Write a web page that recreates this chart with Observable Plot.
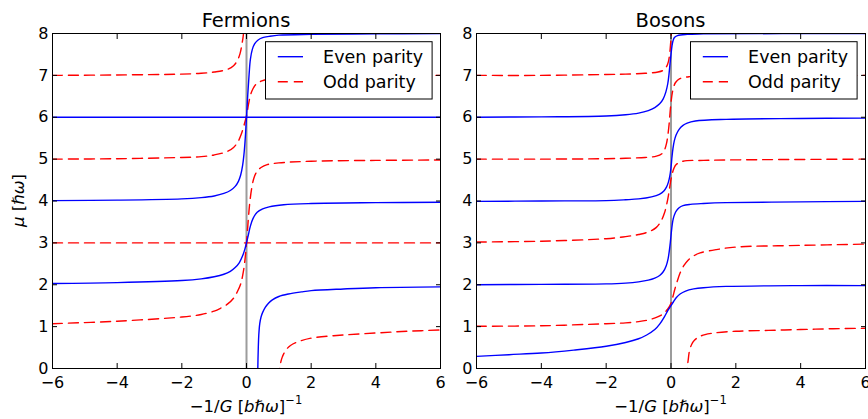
<!DOCTYPE html>
<html><head><meta charset="utf-8">
<script src="https://cdn.jsdelivr.net/npm/d3@7"></script>
<script src="https://cdn.jsdelivr.net/npm/@observablehq/plot@0.6"></script>
<style>
body{margin:0;background:#fff;}
#wrap{position:relative;width:868px;height:419px;font-family:"DejaVu Sans",sans-serif;}
#wrap svg{position:absolute;top:0;}
</style></head><body><div id="wrap"></div>
<script>
// ---------- data ----------
const xTicks = [-6, -4, -2, 0, 2, 4, 6];
const yTicks = [0, 1, 2, 3, 4, 5, 6, 7, 8];
const panelTitles = ["Fermions", "Bosons"];
const legendLabels = ["Even parity", "Odd parity"];

// Fermions, even parity (blue solid)
const fermEvenFlat6 = [[-6, 6], [6, 6]];
const fermEven4to8 = [[-6,4.01],[-4,4.02],[-2,4.05],[-1.4,4.08],[-1,4.12],[-0.7,4.18],[-0.5,4.25],[-0.35,4.35],[-0.25,4.47],[-0.18,4.62],[-0.12,4.85],[-0.08,5.1],[-0.04,5.48],[0,6],[0.04,6.55],[0.08,7.02],[0.12,7.38],[0.18,7.62],[0.25,7.75],[0.35,7.84],[0.5,7.9],[0.7,7.93],[1,7.96],[2,7.98],[4,7.99],[6,8]];
const fermEven2to4 = [[-6,2.03],[-4,2.05],[-2,2.1],[-1.4,2.14],[-1,2.19],[-0.7,2.25],[-0.5,2.32],[-0.35,2.41],[-0.22,2.53],[-0.12,2.69],[-0.05,2.85],[0,3],[0.06,3.2],[0.12,3.4],[0.2,3.58],[0.33,3.73],[0.5,3.81],[0.7,3.86],[1.15,3.91],[2,3.94],[4,3.96],[6,3.97]];
const fermEvenTo2 = [[0.345,-1],[0.35,0],[0.365,0.5],[0.38,0.8],[0.41,1.07],[0.45,1.23],[0.5,1.34],[0.58,1.46],[0.68,1.56],[0.8,1.64],[1,1.72],[1.3,1.78],[1.7,1.83],[2,1.86],[3,1.9],[4,1.93],[6,1.95]];
// Fermions, odd parity (red dashed)
const fermOddFlat3 = [[-6, 3], [6, 3]];
const fermOdd7to8 = [[-6,7.0],[-4,7.01],[-2,7.03],[-1.4,7.05],[-1,7.08],[-0.6,7.14],[-0.4,7.23],[-0.28,7.36],[-0.2,7.52],[-0.14,7.75],[-0.1,7.95],[-0.08,8.2]];
const fermOdd5to7 = [[-6,5.0],[-4,5.01],[-2,5.04],[-1.4,5.06],[-1,5.1],[-0.6,5.18],[-0.4,5.28],[-0.26,5.42],[-0.16,5.6],[-0.08,5.8],[0,6.03],[0.06,6.3],[0.12,6.52],[0.2,6.68],[0.3,6.79],[0.45,6.86],[0.7,6.92],[1,6.95],[2,6.98],[4,6.99],[6,7.0]];
const fermOdd1to5 = [[-6,1.07],[-4,1.13],[-2,1.23],[-1.4,1.29],[-1,1.37],[-0.8,1.44],[-0.6,1.53],[-0.4,1.68],[-0.28,1.84],[-0.18,2.02],[-0.1,2.3],[-0.04,2.65],[0,3.0],[0.05,3.5],[0.1,3.95],[0.16,4.3],[0.23,4.55],[0.32,4.7],[0.45,4.8],[0.64,4.87],[1,4.91],[2,4.95],[4,4.97],[6,4.98]];
const fermOddTo1 = [[1.02,-1],[1.03,0],[1.06,0.15],[1.1,0.26],[1.15,0.35],[1.25,0.47],[1.36,0.55],[1.6,0.64],[2.03,0.73],[3,0.8],[4.04,0.85],[5,0.89],[6,0.92]];

// Bosons, even parity (blue solid)
const bosEven6to8 = [[-6,6.0],[-4,6.01],[-2,6.03],[-1.4,6.06],[-1,6.1],[-0.7,6.16],[-0.5,6.23],[-0.35,6.32],[-0.24,6.44],[-0.16,6.6],[-0.1,6.8],[-0.06,7.04],[-0.03,7.28],[0,7.5],[0.03,7.7],[0.06,7.82],[0.1,7.9],[0.2,7.95],[0.5,7.98],[1,7.99],[6,8.0]];
const bosEven4to6 = [[-6,3.99],[-4,4.0],[-2,4.01],[-1.4,4.03],[-1,4.05],[-0.6,4.1],[-0.36,4.16],[-0.22,4.24],[-0.14,4.33],[-0.08,4.45],[-0.04,4.58],[0,4.8],[0.03,5.05],[0.06,5.25],[0.1,5.43],[0.16,5.58],[0.25,5.71],[0.36,5.8],[0.5,5.86],[0.75,5.91],[1.7,5.95],[4,5.97],[6,5.98]];
const bosEven2to4 = [[-6,2.0],[-4,2.01],[-2,2.02],[-1.4,2.04],[-1,2.07],[-0.7,2.11],[-0.5,2.16],[-0.35,2.22],[-0.24,2.31],[-0.15,2.45],[-0.09,2.62],[-0.05,2.82],[-0.02,3.02],[0.01,3.25],[0.04,3.45],[0.07,3.58],[0.11,3.68],[0.17,3.77],[0.25,3.84],[0.37,3.89],[0.6,3.92],[1,3.94],[1.7,3.96],[4,3.98],[6,3.99]];
const bosEvenLow = [[-6,0.29],[-5,0.33],[-4,0.37],[-3,0.44],[-2,0.53],[-1.4,0.62],[-1,0.71],[-0.75,0.8],[-0.5,0.93],[-0.35,1.06],[-0.2,1.24],[-0.1,1.38],[0,1.5],[0.08,1.6],[0.16,1.69],[0.28,1.78],[0.45,1.85],[0.7,1.9],[1,1.93],[1.7,1.96],[4,1.98],[6,1.98]];
// Bosons, odd parity (red dashed)
const bosOdd7to8 = [[-6,7.0],[-4,7.0],[-2,7.02],[-1.4,7.03],[-0.8,7.05],[-0.4,7.08],[-0.22,7.13],[-0.13,7.22],[-0.08,7.33],[-0.04,7.52],[-0.01,7.78],[0.01,7.98],[0.02,8.1]];
const bosOdd5to7 = [[-6,5.0],[-4,5.0],[-2,5.01],[-1.4,5.02],[-0.8,5.04],[-0.45,5.07],[-0.28,5.13],[-0.2,5.22],[-0.14,5.37],[-0.1,5.55],[-0.06,5.82],[-0.03,6.1],[0,6.35],[0.04,6.58],[0.08,6.72],[0.14,6.83],[0.27,6.92],[0.57,6.97],[1,6.98],[2,6.99],[6,7.0]];
const bosOdd3to5 = [[-6,3.02],[-4,3.04],[-2,3.1],[-1.4,3.15],[-1,3.2],[-0.7,3.26],[-0.45,3.37],[-0.3,3.53],[-0.2,3.72],[-0.13,3.93],[-0.08,4.13],[-0.04,4.33],[0,4.52],[0.04,4.66],[0.09,4.78],[0.16,4.87],[0.37,4.95],[1,4.97],[1.7,4.98],[6,5.0]];
const bosOdd1to3 = [[-6,1.01],[-4,1.02],[-2,1.07],[-1.4,1.09],[-1,1.12],[-0.7,1.16],[-0.45,1.22],[-0.25,1.3],[-0.1,1.42],[0,1.56],[0.06,1.72],[0.12,1.9],[0.2,2.1],[0.28,2.28],[0.4,2.46],[0.52,2.58],[0.7,2.69],[0.9,2.76],[1.4,2.84],[2,2.9],[4,2.94],[6,2.97]];
const bosOddTo1 = [[0.49,-1],[0.5,0],[0.53,0.2],[0.57,0.42],[0.64,0.58],[0.73,0.68],[0.85,0.75],[1.05,0.81],[1.35,0.85],[2,0.89],[3,0.91],[4,0.93],[5,0.95],[6,0.96]];

const fermionBranches = [
  ["fe6", "even", fermEvenFlat6], ["fe48", "even", fermEven4to8], ["fe24", "even", fermEven2to4], ["fe02", "even", fermEvenTo2],
  ["fo3", "odd", fermOddFlat3], ["fo78", "odd", fermOdd7to8], ["fo57", "odd", fermOdd5to7], ["fo15", "odd", fermOdd1to5], ["fo01", "odd", fermOddTo1]
];
const bosonBranches = [
  ["be68", "even", bosEven6to8], ["be46", "even", bosEven4to6], ["be24", "even", bosEven2to4], ["be02", "even", bosEvenLow],
  ["bo78", "odd", bosOdd7to8], ["bo57", "odd", bosOdd5to7], ["bo35", "odd", bosOdd3to5], ["bo13", "odd", bosOdd1to3], ["bo01", "odd", bosOddTo1]
];

// ---------- drawing ----------
const BLUE = "#0000ff", RED = "#ff0000", DASH = "10,6", LW = 1.4;
const wrap = document.getElementById("wrap");

function toRows(branches) {
  const rows = [];
  for (const [b, parity, pts] of branches) for (const [x, y] of pts) rows.push({b, parity, x, y});
  return rows;
}

function panel(title, branches, left, width, marginLeft, marginRight, showYLabel) {
  const rows = toRows(branches);
  const chart = Plot.plot({
    width, height: 419,
    marginLeft, marginRight, marginTop: 33, marginBottom: 51,
    style: {fontFamily: "DejaVu Sans", fontSize: "16px", color: "black", background: "transparent", overflow: "visible"},
    x: {domain: [-6, 6], ticks: xTicks},
    y: {domain: [0, 8], ticks: yTicks},
    marks: [
      Plot.ruleX([0], {stroke: "#9c9c9c", strokeWidth: 2}),
      Plot.line(rows.filter(d => d.parity === "odd"), {x: "x", y: "y", z: "b", stroke: RED, strokeWidth: LW, strokeDasharray: DASH, curve: "catmull-rom", clip: true}),
      Plot.line(rows.filter(d => d.parity === "even"), {x: "x", y: "y", z: "b", stroke: BLUE, strokeWidth: LW, curve: "catmull-rom", clip: true}),
      Plot.frame({stroke: "black", strokeWidth: 1}),
      Plot.axisX(xTicks, {anchor: "bottom", tickSize: -5, tickPadding: 13, label: null}),
      Plot.axisX(xTicks, {anchor: "top", tickSize: -5, tickFormat: () => "", label: null}),
      Plot.axisY(yTicks, {anchor: "left", tickSize: -5, tickPadding: 9, label: null}),
      Plot.axisY(yTicks, {anchor: "right", tickSize: -5, tickFormat: () => "", label: null})
    ]
  });
  chart.style.left = left + "px";
  wrap.appendChild(chart);

  const svg = d3.select(chart);
  const [x0, x1] = chart.scale("x").range;
  const [yb, yt] = chart.scale("y").range;
  const cx = (x0 + x1) / 2;
  const g = svg.append("g").attr("font-family", "DejaVu Sans").attr("fill", "black").attr("text-anchor", "start");

  // title
  g.append("text").attr("x", cx).attr("y", yt - 6).attr("text-anchor", "middle")
    .attr("font-size", 19.5).text(title);

  // x label: −1/G [bħω]^−1
  const xl = g.append("text").attr("x", cx).attr("y", 412).attr("text-anchor", "middle").attr("font-size", 16.5);
  xl.append("tspan").text("−1/");
  xl.append("tspan").attr("font-style", "italic").text("G");
  xl.append("tspan").text(" [");
  xl.append("tspan").attr("font-style", "italic").text("bℏω");
  xl.append("tspan").text("]");
  xl.append("tspan").attr("dy", -8).attr("font-size", 11.5).text("−1");

  if (showYLabel) {
    const yl = g.append("text").attr("transform", `translate(${24},${(yb + yt) / 2}) rotate(-90)`)
      .attr("text-anchor", "middle").attr("font-size", 16.5);
    yl.append("tspan").attr("font-style", "italic").text("μ");
    yl.append("tspan").text(" [");
    yl.append("tspan").attr("font-style", "italic").text("ℏω");
    yl.append("tspan").text("]");
  }

  // legend
  const lx = x1 - 174.5, ly = yt + 8.7, lw = 166.6, lh = 57.3;
  const lg = g.append("g");
  lg.append("rect").attr("x", lx).attr("y", ly).attr("width", lw).attr("height", lh)
    .attr("fill", "white").attr("stroke", "black").attr("stroke-width", 1);
  const entries = [[legendLabels[0], BLUE, null], [legendLabels[1], RED, DASH]];
  entries.forEach(([label, color, dash], i) => {
    const yy = ly + 15 + i * 25;
    lg.append("line").attr("x1", lx + 12.3).attr("x2", lx + 37.5).attr("y1", yy).attr("y2", yy)
      .attr("stroke", color).attr("stroke-width", LW).attr("stroke-dasharray", dash);
    lg.append("text").attr("x", lx + 57.6).attr("y", yy + 6.3).attr("text-anchor", "start")
      .attr("font-size", 17.5).text(label);
  });
}

panel(panelTitles[0], fermionBranches, 0, 445, 52, 5, true);
panel(panelTitles[1], bosonBranches, 445, 423, 31, 3, false);
</script>
</body></html>
